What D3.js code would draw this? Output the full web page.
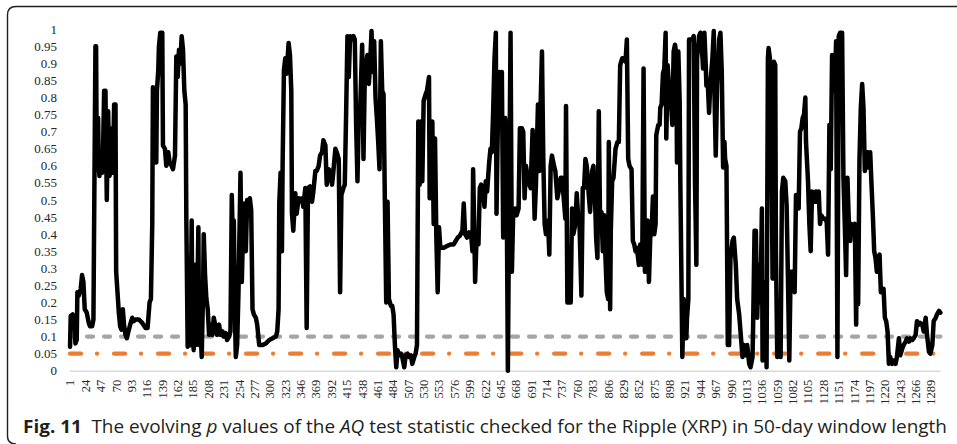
<!DOCTYPE html>
<html>
<head>
<meta charset="utf-8">
<script src="https://cdnjs.cloudflare.com/ajax/libs/d3/7.8.5/d3.min.js"></script>
<style>
  html, body { margin: 0; padding: 0; background: #fff; }
  svg { display: block; }
  .tick-label { font-family: "Liberation Serif", "DejaVu Serif", "Noto Serif", serif; fill: #262626; }
</style>
</head>
<body>
<div id="chart"></div>
<script>
// number of 50-day windows on the category axis
const dayCount = 1303;

// x tick labels shown under the axis
const xTickLabels = [1, 24, 47, 70, 93, 116, 139, 162, 185, 208, 231, 254, 277, 300, 323, 346, 369, 392,
  415, 438, 461, 484, 507, 530, 553, 576, 599, 622, 645, 668, 691, 714, 737, 760, 783, 806, 829, 852,
  875, 898, 921, 944, 967, 990, 1013, 1036, 1059, 1082, 1105, 1128, 1151, 1174, 1197, 1220, 1243, 1266, 1289];

const yTickLabels = [0, 0.05, 0.1, 0.15, 0.2, 0.25, 0.3, 0.35, 0.4, 0.45, 0.5, 0.55, 0.6, 0.65, 0.7,
  0.75, 0.8, 0.85, 0.9, 0.95, 1];

// significance levels drawn as reference lines
const grayLevel = 0.1;
const orangeLevel = 0.05;

// p value of the AQ statistic as [window, p]
const pTrace = [
  [1,.07],[2,.16],[5,.165],[8,.14],[9,.08],[11,.09],[12,.23],[14,.22],[17,.24],[19,.28],[21,.26],[22,.22],
  [23,.18],[26,.17],[29,.14],[31,.13],[34,.13],[36,.15],[39,.95],[40,.95],[41,.59],[43,.74],[44,.6],[45,.57],
  [47,.64],[49,.58],[50,.6],[52,.82],[54,.82],[56,.5],[58,.76],[60,.57],[62,.59],[64,.71],[65,.58],[67,.78],
  [69,.78],[70,.29],[72,.23],[74,.17],[76,.13],[78,.12],[80,.18],[82,.13],[84,.105],[86,.095],[89,.12],
  [91,.135],[94,.155],[96,.145],[99,.15],[104,.15],[109,.14],[114,.125],[117,.125],[120,.2],[122,.21],
  [124,.43],[125,.83],[126,.72],[128,.62],[130,.61],[131,.82],[133,.88],[134,.95],[136,.99],[139,.99],
  [140,.66],[143,.65],[145,.6],[148,.64],[150,.61],[153,.6],[155,.59],[158,.63],[160,.92],[162,.86],[164,.94],
  [166,.9],[168,.98],[170,.94],[172,.82],[174,.78],[175,.44],[177,.07],[179,.085],[181,.075],[183,.44],
  [184,.135],[186,.06],[188,.31],[189,.075],[191,.16],[193,.42],[194,.075],[196,.135],[198,.04],[200,.23],
  [201,.4],[203,.28],[205,.21],[207,.18],[209,.105],[211,.135],[214,.105],[216,.155],[219,.125],[221,.105],
  [224,.135],[226,.105],[229,.115],[231,.1],[234,.11],[236,.09],[239,.1],[241,.115],[243,.515],[245,.33],
  [246,.44],[248,.135],[249,.04],[251,.075],[253,.23],[256,.58],[258,.26],[260,.43],[262,.49],[264,.35],
  [266,.5],[268,.49],[270,.505],[272,.47],[274,.18],[276,.165],[279,.155],[281,.135],[284,.075],[289,.075],
  [294,.08],[299,.09],[304,.095],[309,.1],[311,.115],[313,.18],[314,.49],[316,.58],[317,.48],[318,.35],
  [319,.6],[321,.88],[323,.915],[325,.87],[328,.96],[330,.925],[332,.82],[333,.46],[335,.41],[338,.52],
  [340,.46],[343,.505],[345,.5],[348,.505],[350,.48],[353,.535],[355,.125],[357,.535],[360,.54],[363,.495],
  [365,.525],[368,.585],[370,.585],[373,.6],[375,.63],[378,.64],[380,.675],[383,.66],[385,.545],[388,.59],
  [390,.585],[393,.545],[395,.585],[398,.65],[400,.64],[403,.62],[405,.23],[407,.515],[410,.535],[412,.545],
  [414,.75],[416,.98],[418,.86],[420,.98],[423,.97],[425,.98],[427,.97],[429,.72],[431,.555],[433,.75],
  [435,.76],[438,.955],[440,.62],[442,.87],[444,.905],[446,.925],[448,.84],[450,.9],[452,.995],[454,.875],
  [456,.965],[458,.8],[460,.74],[462,.67],[464,.59],[466,.965],[468,.82],[470,.81],[472,.495],[474,.2],
  [476,.495],[478,.21],[481,.19],[483,.19],[485,.165],[487,.075],[489,.01],[491,.06],[493,.045],[496,.05],
  [498,.04],[501,.01],[503,.045],[506,.05],[508,.04],[511,.045],[513,.02],[516,.04],[518,.05],[520,.075],
  [522,.73],[524,.545],[526,.73],[528,.555],[530,.79],[533,.81],[535,.82],[538,.86],[539,.505],[541,.72],
  [543,.73],[545,.43],[547,.68],[549,.39],[551,.23],[553,.42],[555,.36],[560,.36],[565,.365],[570,.37],
  [575,.37],[578,.38],[581,.39],[584,.395],[588,.41],[590,.49],[592,.4],[595,.39],[598,.405],[601,.4],
  [603,.35],[604,.59],[606,.39],[607,.26],[609,.38],[612,.37],[614,.535],[616,.545],[619,.525],[621,.48],
  [623,.555],[625,.525],[628,.61],[630,.65],[632,.64],[634,.76],[636,.915],[638,.99],[639,.46],[641,.72],
  [643,.875],[645,.81],[647,.875],[649,.39],[651,.545],[652,.74],[654,.6],[656,0],[658,.525],[660,.99],
  [662,.29],[664,.465],[667,.475],[669,.455],[672,.475],[674,.71],[677,.71],[679,.7],[681,.505],[683,.6],
  [685,.575],[688,.545],[690,.535],[693,.705],[696,.445],[698,.545],[701,.78],[703,.585],[705,.78],[707,.935],
  [709,.62],[711,.43],[713,.4],[716,.44],[718,.34],[720,.6],[722,.63],[725,.6],[727,.585],[730,.505],
  [732,.525],[735,.565],[737,.565],[740,.495],[742,.445],[743,.775],[745,.2],[748,.2],[750,.2],[752,.475],
  [754,.4],[757,.43],[759,.52],[761,.455],[763,.44],[766,.22],[768,.535],[770,.535],[772,.62],[774,.6],
  [777,.515],[779,.465],[782,.585],[784,.6],[787,.465],[788,.39],[790,.33],[792,.76],[794,.43],[796,.465],
  [798,.35],[800,.455],[802,.33],[804,.23],[806,.21],[807,.67],[809,.18],[810,.41],[812,.555],[814,.565],
  [816,.62],[817,.65],[820,.67],[822,.67],[824,.895],[827,.915],[829,.915],[832,.905],[834,.97],[836,.62],
  [838,.6],[841,.59],[843,.38],[845,.37],[847,.35],[849,.36],[852,.31],[854,.37],[857,.31],[859,.885],
  [861,.29],[863,.43],[865,.44],[867,.26],[869,.39],[871,.41],[873,.51],[875,.4],[877,.43],[878,.69],
  [881,.72],[883,.72],[884,.77],[886,.78],[888,.87],[890,.885],[892,.99],[893,.68],[895,.895],[897,.835],
  [899,.82],[902,.72],[904,.935],[906,.955],[908,.925],[909,.61],[911,.935],[913,.79],[914,.555],[916,.21],
  [917,.04],[919,.21],[921,.155],[923,.095],[924,.155],[926,.21],[927,.97],[930,.97],[932,.97],[934,.98],
  [936,.545],[938,.31],[939,.915],[942,.98],[944,.99],[946,.955],[948,.885],[950,.99],[952,.895],[953,.835],
  [955,.845],[957,.755],[959,.845],[962,.915],[964,.995],[965,.82],[967,.63],[969,.835],[972,.97],[974,.99],
  [976,.875],[978,.595],[980,.67],[981,.62],[983,.6],[985,.075],[987,.075],[989,.33],[992,.38],[994,.39],
  [997,.31],[999,.21],[1002,.165],[1004,.115],[1007,.04],[1009,.075],[1012,.045],[1014,.075],[1017,.02],
  [1019,.01],[1022,.04],[1023,.145],[1025,.41],[1027,.41],[1029,.155],[1031,.31],[1032,.24],[1034,.2],
  [1036,.475],[1037,.03],[1039,.25],[1042,.26],[1043,.01],[1045,.915],[1046,.945],[1048,.915],[1050,.73],
  [1052,.27],[1054,.905],[1056,.895],[1057,.35],[1059,.04],[1062,.18],[1064,.04],[1066,.525],[1068,.565],
  [1071,.555],[1073,.485],[1075,.27],[1077,.03],[1079,.29],[1082,.29],[1085,.23],[1087,.515],[1089,.505],
  [1091,.475],[1093,.7],[1095,.71],[1097,.74],[1099,.75],[1101,.8],[1102,.67],[1105,.555],[1107,.43],
  [1109,.35],[1111,.525],[1113,.495],[1115,.495],[1117,.525],[1119,.495],[1121,.525],[1123,.43],[1125,.455],
  [1128,.445],[1131,.445],[1133,.435],[1135,.34],[1137,.72],[1139,.59],[1141,.925],[1143,.885],[1145,.82],
  [1147,.965],[1149,.04],[1151,.98],[1153,.99],[1156,.99],[1158,.565],[1160,.43],[1162,.28],[1164,.565],
  [1166,.44],[1168,.38],[1170,.43],[1172,.42],[1175,.43],[1177,.135],[1178,.33],[1180,.195],[1182,.62],
  [1184,.77],[1186,.84],[1188,.77],[1190,.585],[1192,.63],[1194,.64],[1196,.595],[1198,.64],[1200,.545],
  [1202,.455],[1204,.35],[1206,.33],[1208,.29],[1210,.33],[1212,.34],[1214,.23],[1216,.23],[1218,.24],
  [1220,.155],[1222,.145],[1224,.115],[1226,.02],[1228,.04],[1231,.02],[1233,.03],[1236,.02],[1238,.04],
  [1241,.095],[1243,.045],[1246,.065],[1248,.075],[1251,.085],[1253,.095],[1256,.085],[1258,.095],[1261,.09],
  [1263,.095],[1266,.105],[1268,.145],[1271,.135],[1273,.14],[1276,.135],[1278,.115],[1281,.155],[1283,.105],
  [1286,.055],[1288,.05],[1291,.075],[1293,.145],[1296,.155],[1298,.165],[1301,.175],[1303,.17]
];

const W = 957, H = 444;
const plot = {left: 69.7, right: 940.7, top: 29.3, bottom: 370.7};

const svg = d3.select("#chart").append("svg")
  .attr("width", W)
  .attr("height", H);

// figure frame (top and left edge, rounded corner)
svg.append("path")
  .attr("d", "M957,6.5 H16 Q7.5,6.5 7.5,15 V436 Q7.5,444 16,444")
  .attr("fill", "none")
  .attr("stroke", "#231f20")
  .attr("stroke-width", 1.4);

// category axis: each window gets one slot, value sits at the slot centre
const x = d3.scaleLinear()
  .domain([0.5, dayCount + 0.5])
  .range([plot.left, plot.right]);

const y = d3.scaleLinear()
  .domain([0, 1])
  .range([plot.bottom, plot.top]);

// y labels, no axis line
svg.append("g")
  .selectAll("text")
  .data(yTickLabels)
  .enter()
  .append("text")
    .attr("class", "tick-label")
    .attr("x", 57)
    .attr("y", d => y(d))
    .attr("dy", "0.35em")
    .attr("text-anchor", "end")
    .attr("font-size", 13)
    .text(d => d3.format("")(d));

// x axis line
svg.append("line")
  .attr("x1", plot.left)
  .attr("x2", plot.right)
  .attr("y1", y(0) + 0.5)
  .attr("y2", y(0) + 0.5)
  .style("stroke", "#d9d9d9")
  .style("stroke-width", 1.5);

// x labels, rotated
svg.append("g")
  .selectAll("text")
  .data(xTickLabels)
  .enter()
  .append("text")
    .attr("class", "tick-label")
    .attr("transform", d => "translate(" + x(d) + "," + (plot.bottom + 9) + ") rotate(-90)")
    .attr("dy", "0.35em")
    .attr("text-anchor", "end")
    .attr("font-size", 12.5)
    .text(d => d);

// reference lines
svg.append("line")
  .attr("x1", x(1))
  .attr("x2", x(dayCount))
  .attr("y1", y(grayLevel))
  .attr("y2", y(grayLevel))
  .style("stroke", "#a5a5a5")
  .style("stroke-width", 4.3)
  .style("stroke-linecap", "round")
  .style("stroke-dasharray", "6,11");

svg.append("line")
  .attr("x1", x(1))
  .attr("x2", x(dayCount))
  .attr("y1", y(orangeLevel))
  .attr("y2", y(orangeLevel))
  .style("stroke", "#ed7d31")
  .style("stroke-width", 4.3)
  .style("stroke-linecap", "round")
  .style("stroke-dasharray", "11,16,0.01,17");

// p value series
const line = d3.line()
  .x(d => x(d[0]))
  .y(d => y(d[1]));

svg.append("path")
  .datum(pTrace)
  .attr("d", line)
  .style("fill", "none")
  .style("stroke", "#000")
  .style("stroke-width", 4.5)
  .style("stroke-linejoin", "round")
  .style("stroke-linecap", "round");

// caption
const cap = svg.append("text")
  .attr("x", 23)
  .attr("y", 433)
  .attr("textLength", 924)
  .attr("lengthAdjust", "spacingAndGlyphs")
  .style("font-family", "'Open Sans', 'Noto Sans', sans-serif")
  .style("font-size", "17.5px")
  .style("fill", "#231f20");
cap.append("tspan").style("font-weight", "bold").text("Fig. 11");
cap.append("tspan").text("\u2002The evolving ");
cap.append("tspan").style("font-style", "italic").text("p");
cap.append("tspan").text(" values of the ");
cap.append("tspan").style("font-style", "italic").text("AQ");
cap.append("tspan").text(" test statistic checked for the Ripple (XRP) in 50-day window length");
</script>
</body>
</html>
